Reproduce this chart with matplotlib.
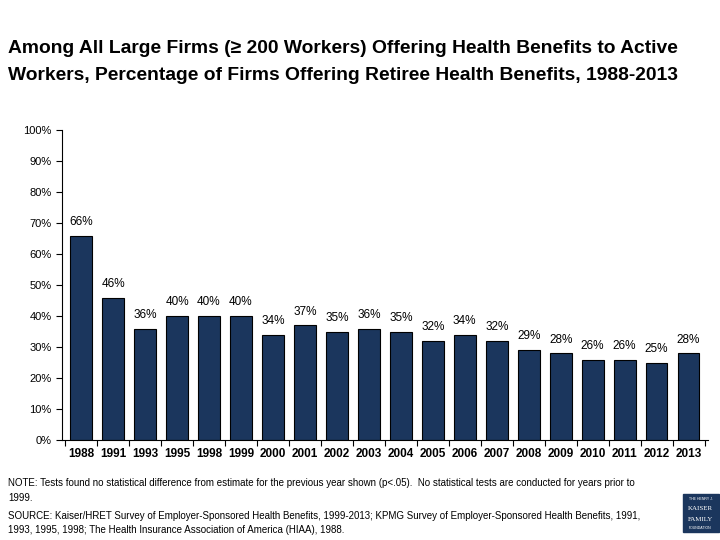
import matplotlib.pyplot as plt
from matplotlib.patches import Rectangle

years = ["1988", "1991", "1993", "1995", "1998", "1999", "2000", "2001", "2002", "2003",
         "2004", "2005", "2006", "2007", "2008", "2009", "2010", "2011", "2012", "2013"]
pct = [66, 46, 36, 40, 40, 40, 34, 37, 35, 36, 35, 32, 34, 32, 29, 28, 26, 26, 25, 28]

plt.rcParams["font.family"] = ["Liberation Sans", "DejaVu Sans"]

fig = plt.figure(figsize=(7.2, 5.4), dpi=100)
ax = fig.add_axes([0.086, 0.185, 0.897, 0.574])

x = range(len(years))
ax.bar(x, pct, width=0.68, color="#1b365d", edgecolor="black", linewidth=0.8)
for i, v in enumerate(pct):
    ax.text(i, v + 2.5, f"{v}%", ha="center", va="bottom", fontsize=8.5)

ax.set_ylim(0, 100)
ax.set_xlim(-0.6, len(years) - 0.4)
ax.set_yticks(range(0, 101, 10))
ax.set_yticklabels([f"{t}%" for t in range(0, 101, 10)], fontsize=8)
ax.set_xticks([i - 0.5 for i in range(len(years) + 1)], minor=False)
ax.set_xticklabels([])
ax.set_xticks(list(x), minor=True)
ax.set_xticklabels(years, minor=True, fontsize=8.5, fontweight="bold")
ax.tick_params(axis="x", which="minor", length=0, pad=6)
ax.tick_params(axis="x", which="major", length=4, direction="out")
ax.tick_params(axis="y", length=4, direction="out")
for s in ["top", "right"]:
    ax.spines[s].set_visible(False)

fig.text(0.011, 0.911, "Among All Large Firms (≥ 200 Workers) Offering Health Benefits to Active",
         fontsize=13.9, fontweight="bold", va="center")
fig.text(0.011, 0.861, "Workers, Percentage of Firms Offering Retiree Health Benefits, 1988-2013",
         fontsize=13.9, fontweight="bold", va="center")

fig.text(0.011, 0.105, "NOTE: Tests found no statistical difference from estimate for the previous year shown (p<.05).  "
         "No statistical tests are conducted for years prior to", fontsize=7, va="center")
fig.text(0.011, 0.078, "1999.", fontsize=7, va="center")
fig.text(0.011, 0.045, "SOURCE: Kaiser/HRET Survey of Employer-Sponsored Health Benefits, 1999-2013; "
         "KPMG Survey of Employer-Sponsored Health Benefits, 1991,", fontsize=7, va="center")
fig.text(0.011, 0.018, "1993, 1995, 1998; The Health Insurance Association of America (HIAA), 1988.",
         fontsize=7, va="center")

# logo box
fig.patches.append(Rectangle((0.948, 0.015), 0.05, 0.07, transform=fig.transFigure,
                             color="#1b365d"))
fig.text(0.973, 0.075, "THE HENRY J.", color="white", fontsize=2.5, ha="center", va="center")
fig.text(0.973, 0.058, "KAISER", color="white", fontsize=5, ha="center", va="center", family="Liberation Serif")
fig.text(0.973, 0.038, "FAMILY", color="white", fontsize=5, ha="center", va="center", family="Liberation Serif")
fig.text(0.973, 0.022, "FOUNDATION", color="white", fontsize=2.5, ha="center", va="center")

fig.savefig("out.png", dpi=100)
